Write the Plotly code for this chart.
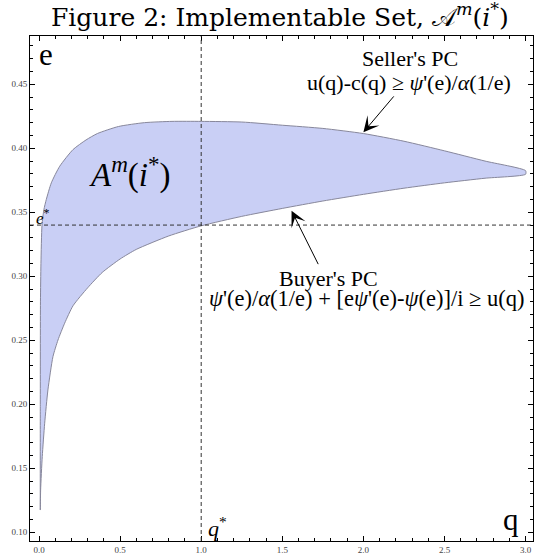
import plotly.graph_objects as go

# ---- data ----
upper_q = [0.008, 0.008, 0.009, 0.012, 0.0185, 0.03, 0.045, 0.076, 0.128, 0.21, 0.29, 0.36,
           0.49, 0.65, 0.82, 1.0, 1.25, 1.5, 1.75, 2.0, 2.25, 2.5, 2.75, 3.0]
upper_e = [0.1174, 0.20, 0.28, 0.31, 0.340, 0.352, 0.360, 0.373, 0.386, 0.399, 0.4065, 0.4115,
           0.417, 0.420, 0.421, 0.421, 0.4205, 0.418, 0.4155, 0.4115, 0.4055, 0.398, 0.390, 0.3825]

lower_q = [0.008, 0.010, 0.020, 0.035, 0.055, 0.086, 0.117, 0.158, 0.21, 0.30, 0.39, 0.5, 0.6, 0.8,
           1.0, 1.25, 1.5, 1.75, 2.0, 2.25, 2.5, 2.75, 3.0]
lower_e = [0.1174, 0.133, 0.1591, 0.1852, 0.2112, 0.2372, 0.2502, 0.2633, 0.2770, 0.2910, 0.3030, 0.3135,
           0.3210, 0.3315, 0.3394, 0.3468, 0.3530, 0.3588, 0.3640, 0.3688, 0.3730, 0.3766, 0.3797]

q_star = 1.0
e_star = 0.34

x_ticks = [0.0, 0.5, 1.0, 1.5, 2.0, 2.5, 3.0]
x_tick_labels = ["0.0", "0.5", "1.0", "1.5", "2.0", "2.5", "3.0"]
y_ticks = [0.10, 0.15, 0.20, 0.25, 0.30, 0.35, 0.40, 0.45]
y_tick_labels = ["0.10", "0.15", "0.20", "0.25", "0.30", "0.35", "0.40", "0.45"]

XR = [-0.0555, 3.0456]
YR = [0.0932, 0.4877]

SERIF = "Liberation Serif, Times New Roman, serif"

fig = go.Figure()

# region between the two participation constraints
fig.add_trace(go.Scatter(
    x=upper_q + lower_q[::-1],
    y=upper_e + lower_e[::-1],
    mode="lines", fill="toself",
    fillcolor="rgb(201,207,245)",
    line=dict(color="rgb(135,135,155)", width=1, shape="spline", smoothing=0.6),
    hoverinfo="skip", showlegend=False,
))

# dashed reference lines
fig.add_shape(type="line", xref="x", yref="paper", x0=q_star, x1=q_star, y0=0, y1=1,
              line=dict(color="#333333", width=1, dash="4px,3px"))
fig.add_shape(type="line", xref="paper", yref="y", x0=0, x1=1, y0=e_star, y1=e_star,
              line=dict(color="#333333", width=1, dash="4px,3px"))

ann = []
def txt(x, y, t, size, xa="center", ya="middle", xref="x", yref="y", font=SERIF):
    ann.append(dict(x=x, y=y, xref=xref, yref=yref, text=t, showarrow=False,
                    xanchor=xa, yanchor=ya, font=dict(family=font, size=size, color="black")))

# title
txt(0.497, 1 + 20 / 505, "Figure 2: Implementable Set, 𝒜<sup><i>m</i></sup>(<i>i</i><sup>*</sup>)",
    25, xref="paper", yref="paper", font="DejaVu Serif, serif")
# axis letters
txt(0.046, 0.4735, "e", 31)
txt(2.907, 0.110, "q", 31)
# starred values
txt(0.024, 0.3460, "<i>e</i><sup>*</sup>", 17)
txt(1.10, 0.1045, "<i>q</i><sup>*</sup>", 22)
# set label
txt(0.298, 0.381, "<i>A</i><sup><i>m</i></sup>(<i>i</i><sup>*</sup>)", 33, xa="left")
# seller's PC
txt(2.29, 0.4705, "Seller's PC", 22)
txt(2.92, 0.4515, "u(q)-c(q) ≥ <i>ψ</i>'(e)/<i>α</i>(1/e)", 22, xa="right")
# buyer's PC
txt(1.782, 0.298, "Buyer's PC", 22)
txt(3.009, 0.2823, "<i>ψ</i>'(e)/<i>α</i>(1/e) + [e<i>ψ</i>'(e)-<i>ψ</i>(e)]/i ≥ u(q)", 22.5, xa="right")

# arrows
for (tx, ty, sx, sy) in [(2.0, 0.4125, 2.195, 0.4417), (1.557, 0.3512, 1.726, 0.3083)]:
    ann.append(dict(x=tx, y=ty, ax=sx, ay=sy, xref="x", yref="y", axref="x", ayref="y",
                    text="", showarrow=True, arrowhead=3, arrowsize=2.6, arrowwidth=1,
                    arrowcolor="black", standoff=0))

fig.update_layout(
    width=534, height=558,
    margin=dict(l=30, r=1, t=36, b=17),
    paper_bgcolor="white", plot_bgcolor="white",
    annotations=ann,
    xaxis=dict(range=XR, showgrid=False, zeroline=False, showline=True, linecolor="black",
               linewidth=1, mirror="ticks", ticks="inside", ticklen=5, tickcolor="black",
               tickvals=x_ticks, ticktext=x_tick_labels,
               tickfont=dict(family=SERIF, size=9, color="#444444"),
               minor=dict(ticks="inside", ticklen=3, dtick=0.1, tick0=0, tickcolor="black", showgrid=False)),
    yaxis=dict(range=YR, showgrid=False, zeroline=False, showline=True, linecolor="black",
               linewidth=1, mirror="ticks", ticks="inside", ticklen=5, tickcolor="black",
               tickvals=y_ticks, ticktext=y_tick_labels,
               tickfont=dict(family=SERIF, size=9, color="#444444"),
               minor=dict(ticks="inside", ticklen=3, dtick=0.01, tick0=0, tickcolor="black", showgrid=False)),
)

fig.write_html("out.html", config={"displayModeBar": False},
               post_script="document.body.style.margin='0px';")
